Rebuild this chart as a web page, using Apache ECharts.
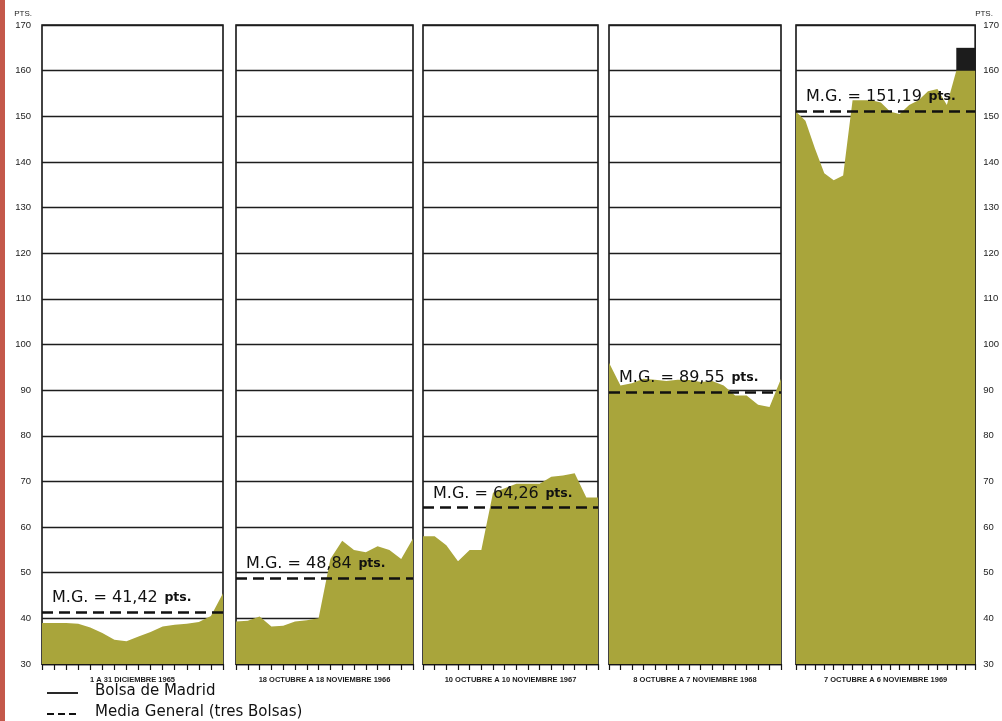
<!DOCTYPE html>
<html>
<head>
<meta charset="utf-8">
<script src="https://cdn.jsdelivr.net/npm/echarts@6/dist/echarts.min.js"></script>
<style>
html,body{margin:0;padding:0;background:#fff;}
#c{width:1002px;height:721px;}
</style>
</head>
<body>
<div id="c"></div>
<script>
// ---- Data ----
const yTicks = [30, 40, 50, 60, 70, 80, 90, 100, 110, 120, 130, 140, 150, 160, 170];
const periodLabels = [
  "1 A 31 DICIEMBRE 1965",
  "18 OCTUBRE A 18 NOVIEMBRE 1966",
  "10 OCTUBRE A 10 NOVIEMBRE 1967",
  "8 OCTUBRE A 7 NOVIEMBRE 1968",
  "7 OCTUBRE A 6 NOVIEMBRE 1969"
];
const madrid1965 = [39, 39, 39, 38.8, 38, 36.8, 35.3, 35, 36, 37, 38.2, 38.6, 38.8, 39.2, 40.5, 45.5];
const madrid1966 = [39.3, 39.5, 40.4, 38.2, 38.4, 39.3, 39.6, 40, 53, 57, 55, 54.5, 55.8, 55, 53, 57.5];
const madrid1967 = [58, 58, 56, 52.5, 55, 55, 67.5, 68.5, 69.5, 69.5, 69.5, 71, 71.3, 71.8, 66.5, 66.5];
const madrid1968 = [96, 91, 91.5, 92.5, 92.3, 92, 92.3, 92.2, 91.8, 92, 91, 88.8, 88.8, 86.8, 86.3, 92.5];
const madrid1969 = [151, 149, 143, 137.5, 136, 137, 153.5, 153.5, 153.5, 153, 151, 150.5, 152.5, 153.5, 155.5, 156, 152.5, 160, 160, 160];
const mediaGeneral = [41.42, 48.84, 64.26, 89.55, 151.19];
// dark block on top of the last days of 1969 (from index, to index, low, high)
const block1969 = [17, 19, 160, 165];

const series = [madrid1965, madrid1966, madrid1967, madrid1968, madrid1969];

// ---- Layout ----
const panels = [
  {left: 42, width: 181},
  {left: 236, width: 177},
  {left: 423, width: 175},
  {left: 609, width: 172},
  {left: 796, width: 181}
];
const TOP = 25, BOTTOM = 57;
const OLIVE = '#a9a53b';
const FONT = 'DejaVu Sans';

const grids = [], xAxes = [], yAxes = [], ser = [];
series.forEach((vals, i) => {
  const cats = vals.map((v, k) => String(k + 1));
  grids.push({left: panels[i].left, width: panels[i].width, top: TOP, bottom: BOTTOM,
    show: true, borderColor: '#151515', borderWidth: 1.6, backgroundColor: '#fff'});
  xAxes.push({
    type: 'category', gridIndex: i, data: cats, boundaryGap: false,
    axisLine: {show: true, lineStyle: {color: '#151515', width: 1.4}},
    axisTick: {show: true, interval: 0, length: 6, lineStyle: {color: '#151515', width: 1.2}},
    axisLabel: {show: false, interval: 0},
    name: periodLabels[i], nameLocation: 'middle', nameGap: 12,
    nameTextStyle: {fontFamily: 'Liberation Sans', fontWeight: 'bold', fontSize: 7.5, color: '#1a1a1a'}
  });
  const showLabels = (i === 0 || i === 4);
  yAxes.push({
    type: 'value', gridIndex: i, min: yTicks[0], max: yTicks[yTicks.length - 1], interval: 10,
    position: i === 4 ? 'right' : 'left',
    axisLine: {show: false}, axisTick: {show: false},
    axisLabel: {show: showLabels, fontFamily: 'Liberation Sans', fontSize: 9.5, color: '#222',
      margin: i === 4 ? 8 : 11},
    name: showLabels ? 'PTS.' : '', nameLocation: 'end', nameGap: 7,
    nameTextStyle: {fontFamily: 'Liberation Sans', fontSize: 8, color: '#222',
      align: i === 4 ? 'left' : 'right', padding: i === 4 ? [0, 0, 0, 0] : [0, 10, 0, 0]},
    splitLine: {show: true, lineStyle: {color: '#1d1d1d', width: 1.3}}
  });
  const mg = mediaGeneral[i];
  const s = {
    type: 'line', xAxisIndex: i, yAxisIndex: i, data: vals,
    symbol: 'none', lineStyle: {width: 0}, areaStyle: {color: OLIVE, opacity: 1},
    silent: true, animation: false,
    markLine: {
      symbol: 'none', silent: true, animation: false,
      lineStyle: {color: '#111', type: [11, 6], width: 2.6},
      label: {
        show: true, position: 'insideStartTop', distance: [10, 6],
        formatter: () => '{a|M.G. = ' + mg.toFixed(2).replace('.', ',') + '}  {b|pts.}',
        rich: {
          a: {fontFamily: FONT, fontSize: 16, color: '#111'},
          b: {fontFamily: FONT, fontSize: 12.5, fontWeight: 'bold', color: '#111'}
        }
      },
      data: [{yAxis: mg}]
    }
  };
  if (i === 4) {
    s.markArea = {
      silent: true,
      itemStyle: {color: '#1c1c1c'},
      data: [[{xAxis: cats[block1969[0]], yAxis: block1969[2]}, {xAxis: cats[block1969[1]], yAxis: block1969[3]}]]
    };
  }
  ser.push(s);
});

const chart = echarts.init(document.getElementById('c'), null, {renderer: 'canvas'});
chart.setOption({
  backgroundColor: '#ffffff',
  animation: false,
  grid: grids, xAxis: xAxes, yAxis: yAxes, series: ser,
  graphic: [
    {type: 'rect', left: 0, top: 0, shape: {width: 5, height: 721}, style: {fill: '#c4584a'}},
    {type: 'line', shape: {x1: 47, y1: 693, x2: 78, y2: 693}, style: {stroke: '#111', lineWidth: 1.8}},
    {type: 'text', left: 95, top: 684, style: {text: 'Bolsa de Madrid', font: '15px "DejaVu Sans"', fill: '#111'}},
    {type: 'line', shape: {x1: 47, y1: 714, x2: 78, y2: 714}, style: {stroke: '#111', lineWidth: 2, lineDash: [7, 4]}},
    {type: 'text', left: 95, top: 705, style: {text: 'Media General (tres Bolsas)', font: '15px "DejaVu Sans"', fill: '#111'}}
  ]
});
</script>
</body>
</html>
